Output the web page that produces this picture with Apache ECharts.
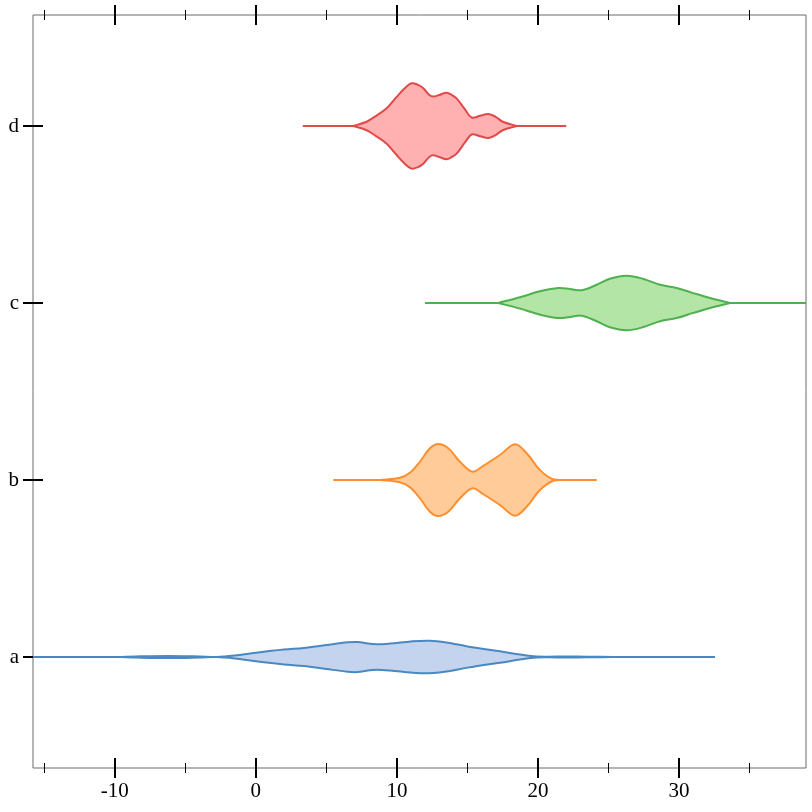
<!DOCTYPE html>
<html>
<head>
<meta charset="utf-8">
<script src="https://cdn.jsdelivr.net/npm/echarts@6/dist/echarts.min.js"></script>
<style>html,body{margin:0;padding:0;background:#fff;}#c{width:812px;height:812px;}</style>
</head>
<body>
<div id="c"></div>
<script>
// Categories (bottom to top)
const categories = ['a', 'b', 'c', 'd'];
const majorTicks = [-10, 0, 10, 20, 30];
const minorTicks = [-15, -5, 5, 15, 25, 35];

// Horizontal extents (min/max of each sample)
const rangeA = [-16, 32.55];
const rangeB = [5.48, 24.16];
const rangeC = [11.99, 40];
const rangeD = [3.33, 22.0];

// Density outlines: x values and half-widths (fraction of category spacing)
const xA = [-9.5, -8.5, -6.2, -4, -2.8, -1.5, 0, 2, 3.4, 5, 6.5, 7.2, 8.3, 9.5, 11, 12.3, 13.5, 15, 17.3, 19.5, 20.5, 22, 23.5, 25.3];
const wA = [0, .003, .006, .003, 0, .008, .024, .042, .051, .068, .083, .085, .073, .076, .088, .092, .082, .060, .032, .006, .002, .003, .002, 0];

const xB = [8.79, 10.2, 10.92, 11.63, 12.34, 12.93, 13.64, 14.47, 15.35, 16.1, 17.3, 18.37, 19.2, 20.14, 21.08, 22.0];
const wB = [0, .013, .041, .103, .179, .203, .179, .103, .047, .079, .141, .202, .151, .056, .004, 0];

const xC = [17.18, 18.72, 20.14, 21.44, 22.27, 23.1, 24.16, 25.1, 26.29, 27.47, 28.65, 29.83, 31.0, 32.2, 33.6];
const wC = [0, .032, .066, .085, .079, .072, .103, .137, .154, .136, .103, .085, .056, .028, 0];

const xD = [6.9, 7.85, 8.5, 9.27, 9.98, 10.5, 11.04, 11.5, 11.87, 12.3, 12.58, 13.0, 13.52, 13.9, 14.23, 14.8, 15.3, 15.9, 16.48, 17.0, 17.5, 18.5];
const wD = [0, .024, .056, .100, .164, .209, .241, .232, .213, .175, .166, .175, .188, .175, .156, .096, .048, .058, .068, .052, .024, 0];

const violins = [
  { range: rangeA, xs: xA, ws: wA, stroke: '#4a88c2', fill: '#c4d4ee' },
  { range: rangeB, xs: xB, ws: wB, stroke: '#fd8f2f', fill: '#ffcb99' },
  { range: rangeC, xs: xC, ws: wC, stroke: '#4fb04f', fill: '#b3e6a6' },
  { range: rangeD, xs: xD, ws: wD, stroke: '#e04a4a', fill: '#ffb1b1' }
];

const X_MIN = -15.8, X_MAX = 39.0;
const Y_MIN = -0.627, Y_MAX = 3.627;
const FONT = '"Liberation Serif", "DejaVu Serif", serif';

function renderViolin(params, api) {
  const ci = api.value(0);
  const v = violins[ci];
  const upper = [], lower = [];
  for (let i = 0; i < v.xs.length; i++) {
    upper.push(api.coord([v.xs[i], ci + v.ws[i]]));
    lower.push(api.coord([v.xs[i], ci - v.ws[i]]));
  }
  const poly = upper.concat(lower.reverse());
  const p0 = api.coord([v.range[0], ci]);
  const p1 = api.coord([v.range[1], ci]);
  return {
    type: 'group',
    children: [
      { type: 'line', shape: { x1: p0[0], y1: p0[1], x2: p1[0], y2: p1[1] },
        style: { stroke: v.stroke, lineWidth: 2 } },
      { type: 'polygon', shape: { points: poly, smooth: 0.35 },
        style: { fill: v.fill, stroke: v.stroke, lineWidth: 2 } }
    ]
  };
}

function xAxisDef(pos, offset, ticks, len, width, labels) {
  return {
    type: 'value', position: pos, offset: offset, min: X_MIN, max: X_MAX,
    axisLine: { show: false, onZero: false },
    splitLine: { show: false },
    axisTick: { show: true, inside: true, length: len, customValues: ticks,
      lineStyle: { color: '#000', width: width } },
    axisLabel: labels ? { show: true, customValues: majorTicks, margin: 3,
      fontFamily: FONT, fontSize: 21, color: '#000' } : { show: false }
  };
}

const chart = echarts.init(document.getElementById('c'), null, { renderer: 'canvas' });
chart.setOption({
  animation: false,
  backgroundColor: '#fff',
  grid: { left: 33, right: 6, top: 15, bottom: 44, show: true,
    borderColor: '#6a6a6a', borderWidth: 1, backgroundColor: 'transparent' },
  xAxis: [
    xAxisDef('bottom', 10, majorTicks, 20, 2, true),
    xAxisDef('bottom', 5, minorTicks, 10, 1, false),
    xAxisDef('top', 10, majorTicks, 20, 2, false),
    xAxisDef('top', 5, minorTicks, 10, 1, false)
  ],
  yAxis: [{
    type: 'value', position: 'left', offset: 10, min: Y_MIN, max: Y_MAX,
    axisLine: { show: false, onZero: false },
    splitLine: { show: false },
    axisTick: { show: true, inside: true, length: 20, customValues: [0, 1, 2, 3],
      lineStyle: { color: '#000', width: 2 } },
    axisLabel: { show: true, customValues: [0, 1, 2, 3], margin: 4,
      formatter: function (v) { return categories[Math.round(v)]; },
      fontFamily: FONT, fontSize: 21, color: '#000' }
  }],
  series: [{
    type: 'custom',
    xAxisIndex: 0, yAxisIndex: 0,
    clip: true,
    renderItem: renderViolin,
    data: categories.map(function (c, i) { return [i]; })
  }]
});
</script>
</body>
</html>
